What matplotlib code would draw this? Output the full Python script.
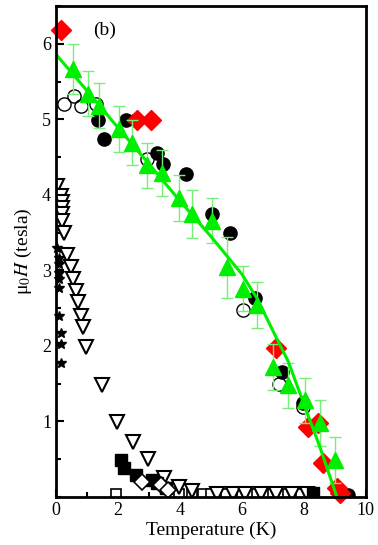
import matplotlib
matplotlib.use("Agg")
import matplotlib.pyplot as plt
from matplotlib.ticker import MultipleLocator

plt.rcParams["font.family"] = ["Liberation Serif", "DejaVu Serif"]
plt.rcParams["mathtext.fontset"] = "stix"

# green triangles with error bars
tri_T = [0.55, 1.04, 1.39, 2.04, 2.46, 2.95, 3.43, 3.98, 4.40, 5.02, 5.53, 6.02, 6.50, 6.99, 7.48, 8.03, 8.51, 9.00]
tri_H = [5.67, 5.34, 5.18, 4.87, 4.69, 4.39, 4.29, 3.96, 3.75, 3.66, 3.04, 2.76, 2.54, 1.72, 1.48, 1.28, 0.98, 0.49]
tri_err = [0.33, 0.3, 0.3, 0.3, 0.3, 0.3, 0.3, 0.3, 0.32, 0.3, 0.4, 0.3, 0.3, 0.3, 0.3, 0.3, 0.3, 0.3]

# green fit line
fit_T = [0, 1, 2, 3, 4, 5, 6, 6.5, 7, 7.5, 8, 8.5, 9, 9.06]
fit_H = [5.86, 5.38, 4.89, 4.41, 3.92, 3.45, 2.95, 2.62, 2.2, 1.79, 1.23, 0.68, 0.08, 0.0]

# filled circles
fc_T = [1.36, 1.55, 2.27, 2.59, 3.27, 3.46, 4.21, 5.05, 5.60, 6.41, 7.28, 7.96, 9.42]
fc_H = [4.99, 4.74, 4.99, 4.99, 4.56, 4.41, 4.28, 3.75, 3.49, 2.63, 1.65, 1.24, 0.03]

# open circles
oc_T = [0.26, 0.58, 0.80, 1.29, 2.95, 6.02, 7.20, 7.96]
oc_H = [5.20, 5.31, 5.18, 5.20, 4.48, 2.48, 1.50, 1.19]

# red diamonds
rd_T = [0.16, 2.63, 3.07, 7.09, 8.12, 8.45, 8.60, 9.06, 9.16]
rd_H = [6.18, 4.99, 4.99, 1.97, 0.93, 0.98, 0.45, 0.12, 0.05]

# open down triangles
dt_T = [0.03, 0.16, 0.19, 0.19, 0.19, 0.19, 0.26, 0.36, 0.49, 0.55, 0.65, 0.71, 0.81, 0.87, 0.97,
        1.49, 1.97, 2.49, 2.98, 3.50, 3.98, 4.40, 5.2, 5.7, 6.1, 6.6, 7.1, 7.6, 8.1]
dt_H = [4.12, 3.99, 3.90, 3.82, 3.75, 3.66, 3.49, 3.20, 3.04, 2.89, 2.73, 2.58, 2.40, 2.25, 1.98,
        1.48, 0.99, 0.73, 0.51, 0.25, 0.13, 0.08, 0.04, 0.04, 0.04, 0.04, 0.04, 0.04, 0.04]

# open squares
os_T = [1.95, 3.98, 4.40, 4.73, 5.00, 5.50, 6.00, 6.50, 7.00, 7.50, 7.90]
os_H = [0.04, 0.04, 0.04, 0.04, 0.04, 0.04, 0.04, 0.04, 0.04, 0.04, 0.04]

# filled squares
fs_T = [2.10, 2.20, 2.58, 3.10, 3.27, 3.55, 8.30]
fs_H = [0.49, 0.38, 0.29, 0.22, 0.18, 0.12, 0.05]

# open diamonds
od_T = [2.79, 3.40, 3.60]
od_H = [0.20, 0.16, 0.09]

# stars
st_T = [0.05, 0.1, 0.1, 0.1, 0.1, 0.1, 0.1, 0.15, 0.15, 0.15]
st_H = [3.29, 3.17, 3.09, 2.97, 2.89, 2.77, 2.40, 2.17, 2.03, 1.78]

fig = plt.figure(figsize=(3.78, 5.45), dpi=100)
ax = fig.add_axes([0.148, 0.088, 0.82, 0.901])

green = "#00ee00"
ax.plot(os_T, os_H, "s", ms=7, mfc="white", mec="black", mew=1.2)
ax.plot(dt_T, dt_H, "v", ms=10, mfc="white", mec="black", mew=1.5)
ax.plot(fs_T, fs_H, "s", ms=8, color="black")
ax.plot(od_T, od_H, "D", ms=8, mfc="white", mec="black", mew=1.2)
ax.plot(st_T, st_H, "*", ms=7, color="black", clip_on=False)
ax.plot(oc_T, oc_H, "o", ms=9.5, mfc="none", mec="black", mew=1.0)
ax.plot(fc_T, fc_H, "o", ms=9.5, color="black")
ax.plot(rd_T, rd_H, "D", ms=10, color="red", mec="red", clip_on=False)
ax.errorbar(tri_T, tri_H, yerr=tri_err, fmt="none", ecolor="#77ee77", elinewidth=1, capsize=4, capthick=1)
ax.plot(tri_T, tri_H, "^", ms=12, color=green, clip_on=False)
ax.plot(fit_T, fit_H, "-", color=green, lw=2.2)

ax.set_xlim(0, 10)
ax.set_ylim(0, 6.5)
ax.xaxis.set_major_locator(MultipleLocator(2))
ax.xaxis.set_minor_locator(MultipleLocator(1))
ax.set_yticks([1, 2, 3, 4, 5, 6])
ax.yaxis.set_minor_locator(MultipleLocator(0.5))
ax.tick_params(which="both", direction="in", width=1.5, labelsize=13)
ax.tick_params(which="major", length=6)
ax.tick_params(which="minor", length=3.5)
for s in ax.spines.values():
    s.set_linewidth(2)

ax.set_xlabel("Temperature (K)", fontsize=14, labelpad=2)
ax.set_ylabel("μ$_0$$H$ (tesla)", fontsize=14, labelpad=6)
ax.text(1.2, 6.18, "(b)", fontsize=14, va="center")

fig.savefig("out.png", dpi=100)
